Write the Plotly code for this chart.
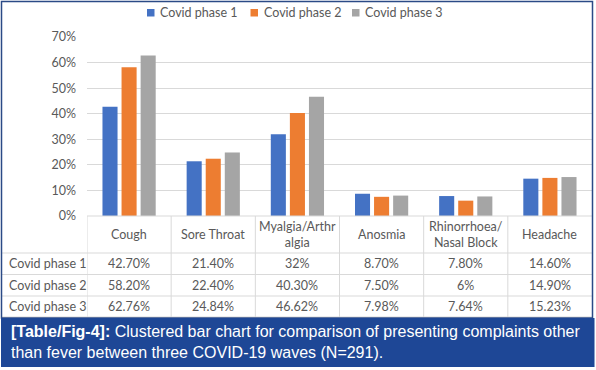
import plotly.graph_objects as go

categories = ["Cough", "Sore Throat", "Myalgia/Arthralgia", "Anosmia", "Rhinorrhoea/Nasal Block", "Headache"]
header_labels = ["Cough", "Sore Throat", "Myalgia/Arthr<br>algia", "Anosmia", "Rhinorrhoea/<br>Nasal Block", "Headache"]
series_names = ["Covid phase 1", "Covid phase 2", "Covid phase 3"]
phase1 = [42.70, 21.40, 32.00, 8.70, 7.80, 14.60]
phase2 = [58.20, 22.40, 40.30, 7.50, 6.00, 14.90]
phase3 = [62.76, 24.84, 46.62, 7.98, 7.64, 15.23]
phase1_text = ["42.70%", "21.40%", "32%", "8.70%", "7.80%", "14.60%"]
phase2_text = ["58.20%", "22.40%", "40.30%", "7.50%", "6%", "14.90%"]
phase3_text = ["62.76%", "24.84%", "46.62%", "7.98%", "7.64%", "15.23%"]
y_ticks = [0, 10, 20, 30, 40, 50, 60, 70]
y_tick_labels = ["0%", "10%", "20%", "30%", "40%", "50%", "60%", "70%"]
caption_bold = "[Table/Fig-4]:"
caption_rest = " Clustered bar chart for comparison of presenting complaints other<br>than fever between three COVID-19 waves (N=291)."

colors = ["#4472C4", "#ED7D31", "#A5A5A5"]
W, H = 596, 370
def X(p): return p / W
def Y(p): return 1 - p / H

TXT = "#595959"
FONT = "Lato"
GRID = "#D9D9D9"

fig = go.Figure()
for name, vals, col in zip(series_names, [phase1, phase2, phase3], colors):
    fig.add_trace(go.Bar(x=categories, y=[v / 100 for v in vals], name=name, showlegend=False,
                         marker=dict(color=col, line=dict(width=0))))

plot_left, plot_right, plot_top, plot_bottom = 87, 592, 37, 216
fig.update_layout(
    width=W, height=H, margin=dict(l=0, r=0, t=0, b=0, pad=0, autoexpand=False),
    paper_bgcolor="white", plot_bgcolor="white",
    barmode="group", bargap=0.32, bargroupgap=0.21,
    font=dict(family=FONT, color=TXT, size=12),
    showlegend=False,
    xaxis=dict(domain=[X(plot_left), X(plot_right)], showticklabels=False, showgrid=False,
               zeroline=False, showline=False, ticks="", range=[-0.5, 5.5]),
    yaxis=dict(domain=[Y(plot_bottom), Y(plot_top)], range=[0, 0.70], tickvals=[t / 100 for t in y_ticks],
               ticktext=y_tick_labels, showgrid=True, gridcolor=GRID, gridwidth=1,
               zeroline=False, showline=False, ticks="", ticklabelstandoff=10,
               tickfont=dict(family=FONT, size=12.5, color=TXT)),
)

shapes = []
shapes.append(dict(type="line", xref="paper", yref="paper", x0=X(87), x1=X(592), y0=Y(216), y1=Y(216),
                   line=dict(color=GRID, width=1)))
row_lines = [253, 274.5, 296, 317]
for ry in row_lines:
    shapes.append(dict(type="line", xref="paper", yref="paper", x0=X(2), x1=X(592), y0=Y(ry), y1=Y(ry),
                       line=dict(color=GRID, width=1)))
for i in range(len(categories)):
    shapes.append(dict(type="line", xref="x", yref="paper", x0=i - 0.5, x1=i - 0.5, y0=Y(216), y1=Y(317),
                       line=dict(color=GRID, width=1)))
shapes.append(dict(type="rect", xref="paper", yref="paper", x0=X(1.5), x1=X(592.5), y0=Y(1.5), y1=Y(318),
                   line=dict(color="#2B4A86", width=1.5), fillcolor="rgba(0,0,0,0)"))
shapes.append(dict(type="rect", xref="paper", yref="paper", x0=X(1), x1=X(594.5), y0=Y(318), y1=Y(367),
                   line=dict(width=0), fillcolor="#1E4796", layer="above"))

# manual legend
legend_sq_x = [147, 250.5, 352]
for sx, col in zip(legend_sq_x, colors):
    shapes.append(dict(type="rect", xref="paper", yref="paper", x0=X(sx), x1=X(sx + 7.5), y0=Y(9), y1=Y(16.5),
                       line=dict(width=0), fillcolor=col))
fig.update_layout(shapes=shapes)

ann = []
for sx, name in zip(legend_sq_x, series_names):
    ann.append(dict(x=X(sx + 11), xref="paper", y=Y(12.5), yref="paper", text=name, showarrow=False,
                    xanchor="left", yanchor="middle", font=dict(family=FONT, size=12.5, color=TXT)))
header_y = 234
for i, h in enumerate(header_labels):
    ann.append(dict(x=i, xref="x", y=Y(header_y), yref="paper", text=h, showarrow=False,
                    xanchor="center", yanchor="middle", font=dict(family=FONT, size=12.5, color=TXT)))
row_centers = [263.5, 285, 306.5]
for name, texts, ry in zip(series_names, [phase1_text, phase2_text, phase3_text], row_centers):
    ann.append(dict(x=X(7), xref="paper", y=Y(ry), yref="paper", text=name, showarrow=False,
                    xanchor="left", yanchor="middle", font=dict(family=FONT, size=12.5, color=TXT)))
    for i, t in enumerate(texts):
        ann.append(dict(x=i, xref="x", y=Y(ry), yref="paper", text=t, showarrow=False,
                        xanchor="center", yanchor="middle", font=dict(family=FONT, size=12.5, color=TXT)))
ann.append(dict(x=X(9), xref="paper", y=Y(341.5), yref="paper",
                text="<b>" + caption_bold + "</b>" + caption_rest, showarrow=False, align="left",
                xanchor="left", yanchor="middle",
                font=dict(family="Liberation Sans, Arial", size=16, color="white")))
fig.update_layout(annotations=ann)

fig.write_html("out.html", config={"displayModeBar": False},
               post_script="document.body.style.margin='0';document.body.style.overflow='hidden';")
